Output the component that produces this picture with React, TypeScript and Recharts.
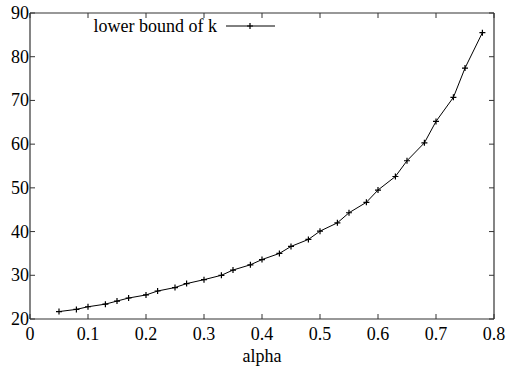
import { Line, LineChart, XAxis, YAxis } from "recharts";

const alpha = [
  0.05, 0.08, 0.1, 0.13, 0.15, 0.17, 0.2, 0.22, 0.25, 0.27, 0.3, 0.33, 0.35,
  0.38, 0.4, 0.43, 0.45, 0.48, 0.5, 0.53, 0.55, 0.58, 0.6, 0.63, 0.65, 0.68,
  0.7, 0.73, 0.75, 0.78,
];
const lowerBound = [
  21.7, 22.2, 22.8, 23.4, 24.1, 24.8, 25.5, 26.4, 27.2, 28.1, 29.0, 30.0, 31.2,
  32.4, 33.6, 35.0, 36.6, 38.2, 40.1, 42.0, 44.3, 46.7, 49.5, 52.6, 56.2, 60.3,
  65.2, 70.7, 77.4, 85.5,
];
const xTicks = [0, 0.1, 0.2, 0.3, 0.4, 0.5, 0.6, 0.7, 0.8];
const yTicks = [20, 30, 40, 50, 60, 70, 80, 90];

const data = alpha.map((a, i) => ({ alpha: a, k: lowerBound[i] }));

const FONT = "Liberation Serif";
const AXIS = "#333";
const TICK = 5;

function PlusDot(props: any) {
  const { cx, cy, index } = props;
  if (cx == null || cy == null) return null;
  return (
    <path
      key={index}
      d={`M${cx - 3},${cy}H${cx + 3}M${cx},${cy - 3}V${cy + 3}`}
      stroke="#000"
      strokeWidth={1.2}
    />
  );
}

function BottomTick({ x, y, payload }: any) {
  return (
    <g>
      <line x1={x} y1={y} x2={x} y2={y - TICK} stroke={AXIS} />
      <text x={x} y={y + 21} textAnchor="middle" style={{ fontSize: 18, fontFamily: FONT }} fill="#000">
        {payload.value}
      </text>
    </g>
  );
}

function TopTick({ x, y }: any) {
  return <line x1={x} y1={y} x2={x} y2={y + TICK} stroke={AXIS} />;
}

function LeftTick({ x, y, payload }: any) {
  return (
    <g>
      <line x1={x} y1={y} x2={x + TICK} y2={y} stroke={AXIS} />
      <text x={x - 1} y={y + 6} textAnchor="end" style={{ fontSize: 18, fontFamily: FONT }} fill="#000">
        {payload.value}
      </text>
    </g>
  );
}

function RightTick({ x, y }: any) {
  return <line x1={x} y1={y} x2={x - TICK} y2={y} stroke={AXIS} />;
}

export default function App() {
  return (
    <div style={{ position: "absolute", left: 0, top: 0, width: 508, height: 368, background: "#fff", fontFamily: FONT }}>
      <LineChart
        width={508}
        height={368}
        data={data}
        margin={{ top: 12, right: 13, left: 0, bottom: 0 }}
        style={{ fontFamily: FONT }}
      >
        <XAxis
          dataKey="alpha"
          type="number"
          domain={[0, 0.8]}
          ticks={xTicks}
          height={49}
          tickSize={0}
          tickMargin={0}
          tickLine={false}
          tick={<BottomTick />}
          axisLine={{ stroke: AXIS, strokeWidth: 1.2 }}
          label={{ value: "alpha", position: "insideBottom", offset: 6, style: { fontSize: 18, fontFamily: FONT }, fill: "#000" }}
        />
        <XAxis
          xAxisId="top"
          orientation="top"
          dataKey="alpha"
          type="number"
          domain={[0, 0.8]}
          ticks={xTicks}
          height={1}
          tickSize={0}
          tickMargin={0}
          tickLine={false}
          tick={<TopTick />}
          axisLine={{ stroke: AXIS, strokeWidth: 1.2 }}
        />
        <YAxis
          type="number"
          domain={[20, 90]}
          ticks={yTicks}
          width={30}
          tickSize={0}
          tickMargin={0}
          tickLine={false}
          tick={<LeftTick />}
          axisLine={{ stroke: AXIS, strokeWidth: 1.2 }}
        />
        <YAxis
          yAxisId="right"
          orientation="right"
          type="number"
          domain={[20, 90]}
          ticks={yTicks}
          width={1}
          tickSize={0}
          tickMargin={0}
          tickLine={false}
          tick={<RightTick />}
          axisLine={{ stroke: AXIS, strokeWidth: 1.2 }}
        />
        {/* invisible copy so the mirrored frame axes have a series */}
        <Line
          xAxisId="top"
          yAxisId="right"
          dataKey="k"
          stroke="none"
          dot={false}
          activeDot={false}
          isAnimationActive={false}
        />
        <Line
          dataKey="k"
          stroke="#000"
          strokeWidth={1}
          dot={<PlusDot />}
          activeDot={false}
          isAnimationActive={false}
        />
      </LineChart>
      <svg
        width={508}
        height={60}
        style={{ position: "absolute", left: 0, top: 0, pointerEvents: "none" }}
      >
        <text x={217} y={32} textAnchor="end" style={{ fontSize: 18, fontFamily: FONT }} fill="#000">
          lower bound of k
        </text>
        <line x1={226} y1={26} x2={275} y2={26} stroke="#000" />
        <path d="M247,26H253M250,23V29" stroke="#000" strokeWidth={1.2} />
      </svg>
    </div>
  );
}
